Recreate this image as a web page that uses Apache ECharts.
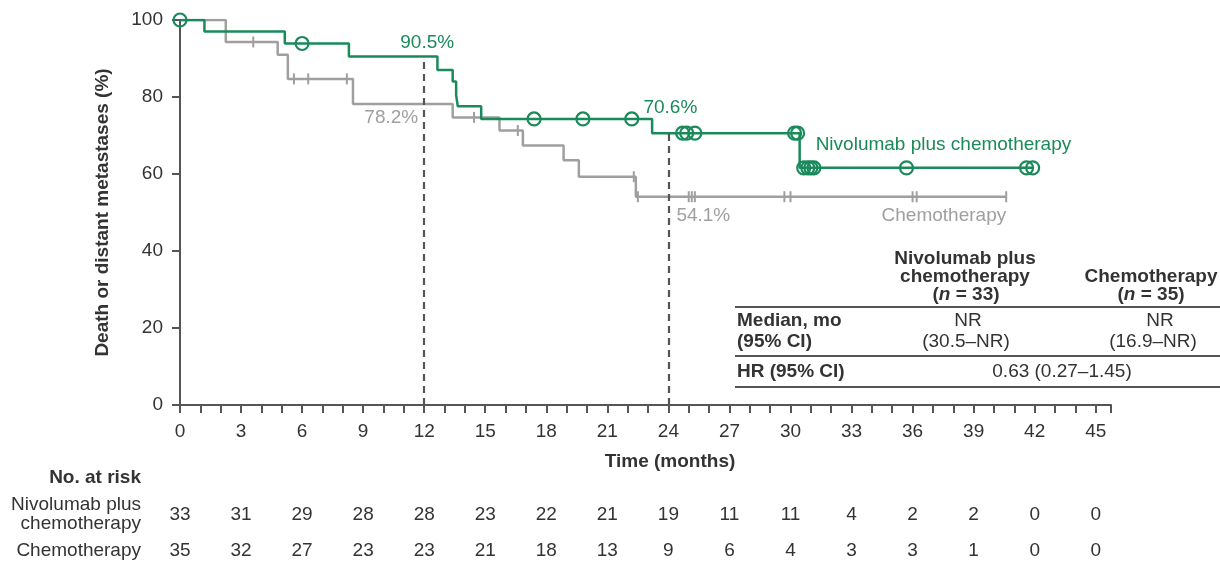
<!DOCTYPE html>
<html>
<head>
<meta charset="utf-8">
<script src="https://cdn.jsdelivr.net/npm/echarts@6/dist/echarts.min.js"></script>
<style>
  html, body { margin: 0; padding: 0; background: #ffffff; }
  #chart { width: 1220px; height: 564px; }
</style>
</head>
<body>
<div id="chart"></div>
<script>
// Kaplan–Meier estimates, months vs. % free of death or distant metastases
const months = [0, 3, 6, 9, 12, 15, 18, 21, 24, 27, 30, 33, 36, 39, 42, 45];
const nivoAtRisk = [33, 31, 29, 28, 28, 23, 22, 21, 19, 11, 11, 4, 2, 2, 0, 0];
const chemoAtRisk = [35, 32, 27, 23, 23, 21, 18, 13, 9, 6, 4, 3, 3, 1, 0, 0];

const nivoSteps = [[0, 100], [1.2, 97.0], [5.15, 93.9], [8.3, 90.5], [12.65, 87.0], [13.4, 84.0],
  [13.57, 80.5], [13.65, 77.6], [14.8, 74.3], [23.2, 70.6], [30.45, 61.6], [41.9, 61.6]];
const nivoCensored = [[0, 100], [6.0, 93.9], [17.4, 74.3], [19.8, 74.3], [22.2, 74.3], [24.7, 70.6],
  [24.9, 70.6], [25.3, 70.6], [30.2, 70.6], [30.35, 70.6], [30.65, 61.6], [30.85, 61.6], [31.0, 61.6],
  [31.15, 61.6], [35.7, 61.6], [41.6, 61.6], [41.9, 61.6]];

const chemoSteps = [[0, 100], [2.25, 94.3], [4.8, 91.0], [5.3, 84.7], [8.5, 78.2], [13.4, 74.7],
  [15.7, 71.3], [16.85, 67.4], [18.85, 63.6], [19.6, 59.3], [22.4, 54.1], [40.6, 54.1]];
const chemoCensored = [[3.6, 94.3], [5.6, 84.7], [6.3, 84.7], [8.2, 84.7], [14.45, 74.7], [16.6, 71.3],
  [22.3, 59.3], [22.5, 54.1], [25.0, 54.1], [25.15, 54.1], [25.3, 54.1], [29.7, 54.1], [30.0, 54.1],
  [36.0, 54.1], [36.2, 54.1], [40.6, 54.1]];

const landmarkMonths = [12, 24];
const nivoLandmark = [90.5, 70.6];
const chemoLandmark = [78.2, 54.1];

const armNames = ['Nivolumab plus chemotherapy', 'Chemotherapy'];
const tableHeader = [['Nivolumab plus', 'chemotherapy', '(n = 33)'], ['Chemotherapy', '(n = 35)']];
const medianRow = ['Median, mo', '(95% CI)'];
const medianValues = [['NR', '(30.5–NR)'], ['NR', '(16.9–NR)']];
const hrRow = ['HR (95% CI)', '0.63 (0.27–1.45)'];

const GREEN = '#1a8a5b';
const GREY = '#a19e9e';
const AXIS = '#555555';
const TEXT = '#333333';
const FONT = '"Liberation Sans", Arial, Helvetica, sans-serif';
const FS = 19;

const chart = echarts.init(document.getElementById('chart'), null, { renderer: 'canvas' });

const xMax = 45.75;

function pctLabel(pos, align, vAlign, color) {
  return {
    show: true, position: pos, align: align, verticalAlign: vAlign,
    formatter: p => p.value[1].toFixed(1) + '%',
    color: color, fontSize: FS, fontFamily: FONT
  };
}

const solid = { opacity: 1 };

const option = {
  backgroundColor: '#ffffff',
  animation: false,
  textStyle: { fontFamily: FONT },
  grid: [
    { left: 180, top: 20, width: 931, height: 385 },
    { left: 180, top: 515, width: 931, height: 36 }
  ],
  xAxis: [
    {
      type: 'value', gridIndex: 0, min: 0, max: xMax, interval: 3,
      axisLine: { show: true, lineStyle: { color: AXIS, width: 2 } },
      axisTick: { show: true, length: 8, lineStyle: { color: AXIS, width: 2 } },
      minorTick: { show: true, splitNumber: 3, length: 8, lineStyle: { color: AXIS, width: 2 } },
      axisLabel: { color: TEXT, fontSize: FS, fontFamily: FONT, margin: 17,
        formatter: v => (Number.isInteger(v) ? String(v) : '') },
      splitLine: { show: false }, minorSplitLine: { show: false }
    },
    { type: 'value', gridIndex: 1, min: 0, max: xMax, show: false }
  ],
  yAxis: [
    {
      type: 'value', gridIndex: 0, min: 0, max: 100, interval: 20,
      name: 'Death or distant metastases (%)', nameLocation: 'middle', nameGap: 68,
      nameTextStyle: { color: TEXT, fontSize: FS, fontWeight: 'bold', fontFamily: FONT },
      axisLine: { show: true, lineStyle: { color: AXIS, width: 2 } },
      axisTick: { show: true, length: 8, lineStyle: { color: AXIS, width: 2 } },
      axisLabel: { color: TEXT, fontSize: FS, fontFamily: FONT, margin: 17 },
      splitLine: { show: false }
    },
    { type: 'value', gridIndex: 1, min: 0, max: 1, inverse: true, show: false }
  ],
  series: [
    {
      name: armNames[1], type: 'line', step: 'end', data: chemoSteps, showSymbol: false,
      lineStyle: { color: GREY, width: 2.5 }, z: 2,
      markLine: {
        silent: true, symbol: 'none', label: { show: false },
        lineStyle: { color: AXIS, width: 2.2, type: [7, 5] },
        data: landmarkMonths.map((m, i) => [{ coord: [m, 0] }, { coord: [m, nivoLandmark[i]] }])
      }
    },
    {
      name: armNames[1] + ' censored', type: 'scatter', data: chemoCensored,
      symbol: 'rect', symbolSize: [2, 11], itemStyle: { color: GREY, opacity: 1 }, z: 3
    },
    {
      name: armNames[0], type: 'line', step: 'end', data: nivoSteps, showSymbol: false,
      lineStyle: { color: GREEN, width: 2.5 }, z: 4
    },
    {
      name: armNames[0] + ' censored', type: 'scatter', data: nivoCensored,
      symbol: 'circle', symbolSize: 13,
      itemStyle: { color: 'rgba(255,255,255,0)', borderColor: GREEN, borderWidth: 2.2, opacity: 1 }, z: 5
    },
    // landmark percentages
    {
      type: 'scatter', symbolSize: 0, silent: true, z: 6, itemStyle: solid,
      data: [
        { value: [landmarkMonths[0], nivoLandmark[0]], label: pctLabel([3, -4], 'center', 'bottom', GREEN) },
        { value: [landmarkMonths[1], nivoLandmark[1]], label: pctLabel([2, -16], 'center', 'bottom', GREEN) },
        { value: [landmarkMonths[0], chemoLandmark[0]], label: pctLabel([-6, 4], 'right', 'top', GREY) },
        { value: [landmarkMonths[1], chemoLandmark[1]], label: pctLabel([8, 10], 'left', 'top', GREY) }
      ]
    },
    // arm names beside the curves
    {
      type: 'scatter', symbolSize: 0, silent: true, z: 6, itemStyle: solid,
      data: [
        { value: nivoSteps[nivoSteps.length - 2], label: { show: true, formatter: armNames[0], position: [16, -23],
          align: 'left', verticalAlign: 'middle', color: GREEN, fontSize: FS, fontFamily: FONT } },
        { value: chemoSteps[chemoSteps.length - 1], label: { show: true, formatter: armNames[1], position: [0, 10],
          align: 'right', verticalAlign: 'top', color: GREY, fontSize: FS, fontFamily: FONT } }
      ]
    },
    // number at risk
    {
      type: 'scatter', xAxisIndex: 1, yAxisIndex: 1, symbolSize: 0, silent: true, itemStyle: solid,
      data: months.map((m, i) => [m, 0, nivoAtRisk[i]]).concat(months.map((m, i) => [m, 1, chemoAtRisk[i]])),
      label: { show: true, position: 'inside', formatter: p => String(p.value[2]),
        color: TEXT, fontSize: FS, fontFamily: FONT }
    }
  ],
  graphic: []
};

chart.setOption(option);

// Axis title under the month labels, and row headers for the at-risk table
const g = [];
const txt = (x, y, text, opts) => Object.assign({
  type: 'text', x: x, y: y,
  style: Object.assign({ text: text, fill: TEXT, font: FS + 'px ' + FONT, verticalAlign: 'middle' }, opts || {})
});
g.push(txt(670, 462, 'Time (months)', { font: 'bold ' + FS + 'px ' + FONT, align: 'center' }));
g.push(txt(141, 478, 'No. at risk', { font: 'bold ' + FS + 'px ' + FONT, align: 'right' }));
g.push(txt(141, 505, 'Nivolumab plus', { align: 'right' }));
g.push(txt(141, 524, 'chemotherapy', { align: 'right' }));
g.push(txt(141, 551, armNames[1], { align: 'right' }));

// Summary table
const bold = 'bold ' + FS + 'px ' + FONT;
g.push(txt(965, 259, tableHeader[0][0], { font: bold, align: 'center' }));
g.push(txt(965, 277, tableHeader[0][1], { font: bold, align: 'center' }));
g.push({
  type: 'text', x: 966, y: 295,
  style: { rich: { i: { font: 'bold italic ' + FS + 'px ' + FONT, fill: TEXT }, b: { font: bold, fill: TEXT } },
    text: '{b|(}{i|n}{b| = 33)}', align: 'center', verticalAlign: 'middle' }
});
g.push(txt(1151, 277, tableHeader[1][0], { font: bold, align: 'center' }));
g.push({
  type: 'text', x: 1151, y: 295,
  style: { rich: { i: { font: 'bold italic ' + FS + 'px ' + FONT, fill: TEXT }, b: { font: bold, fill: TEXT } },
    text: '{b|(}{i|n}{b| = 35)}', align: 'center', verticalAlign: 'middle' }
});
g.push({ type: 'line', shape: { x1: 735, y1: 307, x2: 1220, y2: 307 }, style: { stroke: AXIS, lineWidth: 2 } });
g.push(txt(737, 321, medianRow[0], { font: bold, align: 'left' }));
g.push(txt(737, 342, medianRow[1], { font: bold, align: 'left' }));
g.push(txt(968, 321, medianValues[0][0], { align: 'center' }));
g.push(txt(966, 342, medianValues[0][1], { align: 'center' }));
g.push(txt(1160, 321, medianValues[1][0], { align: 'center' }));
g.push(txt(1153, 342, medianValues[1][1], { align: 'center' }));
g.push({ type: 'line', shape: { x1: 735, y1: 356, x2: 1220, y2: 356 }, style: { stroke: AXIS, lineWidth: 2 } });
g.push(txt(737, 372, hrRow[0], { font: bold, align: 'left' }));
g.push(txt(1062, 372, hrRow[1], { align: 'center' }));
g.push({ type: 'line', shape: { x1: 735, y1: 387, x2: 1220, y2: 387 }, style: { stroke: AXIS, lineWidth: 2 } });

chart.setOption({ graphic: g });
</script>
</body>
</html>
